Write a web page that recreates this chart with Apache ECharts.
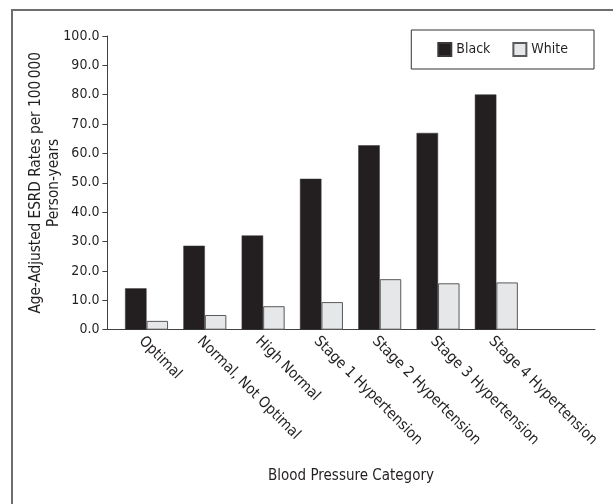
<!DOCTYPE html>
<html>
<head>
<meta charset="utf-8">
<script src="https://cdn.jsdelivr.net/npm/echarts@6/dist/echarts.min.js"></script>
<style>
  html, body { margin: 0; padding: 0; background: #fff; }
  #chart { width: 613px; height: 504px; position: absolute; left: 0; top: 0; }
  #frame { position: absolute; left: 11px; top: 9px; width: 613px; height: 504px;
           border-left: 2px solid #6d6e70; border-top: 2px solid #6d6e70; pointer-events: none; }
</style>
</head>
<body>
<div id="chart"></div>
<div id="frame"></div>
<script>
const categories = ["Optimal", "Normal, Not Optimal", "High Normal", "Stage 1 Hypertension",
                    "Stage 2 Hypertension", "Stage 3 Hypertension", "Stage 4 Hypertension", ""];
const blackRates = [14.1, 28.6, 32.1, 51.4, 62.8, 67.0, 80.1, null];
const whiteRates = [3.0, 5.0, 8.0, 9.4, 17.2, 15.8, 16.1, null];
const yTicks = { min: 0, max: 100, interval: 10 };

const FONT = '"Liberation Sans Narrow", "DejaVu Sans Condensed", "Liberation Sans", sans-serif';
const TXT = '#231f20';

const chart = echarts.init(document.getElementById('chart'), null, { renderer: 'canvas' });
chart.setOption({
  animation: false,
  backgroundColor: '#fff',
  textStyle: { fontFamily: FONT, color: TXT },
  legend: {
    right: 19, top: 30,
    padding: [12, 26, 12, 26],
    borderColor: '#333', borderWidth: 1,
    itemWidth: 13, itemHeight: 13, itemGap: 22,
    icon: 'rect',
    textStyle: { fontFamily: FONT, fontSize: 14, color: TXT },
    data: ['Black', 'White']
  },
  grid: [
    { left: 117.4, width: 466.4, top: 36, height: 293.7, containLabel: false },
    { left: 107, width: 488, top: 36, height: 293.7, containLabel: false }
  ],
  xAxis: [
    {
      type: 'category', gridIndex: 0, data: categories,
      axisLine: { show: false }, axisTick: { show: false },
      axisLabel: { rotate: -45, interval: 0, margin: 4, verticalAlign: 'top',
                   fontFamily: FONT, fontSize: 15, color: TXT }
    },
    {
      type: 'category', gridIndex: 1, data: [],
      axisLine: { show: true, lineStyle: { color: '#414042', width: 1 } },
      axisTick: { show: false }, axisLabel: { show: false },
      name: 'Blood Pressure Category', nameLocation: 'middle', nameGap: 139,
      nameMoveOverlap: false,
      nameTextStyle: { fontFamily: FONT, fontSize: 15, color: TXT }
    }
  ],
  yAxis: [
    {
      type: 'value', gridIndex: 0, offset: 10,
      min: yTicks.min, max: yTicks.max, interval: yTicks.interval,
      splitLine: { show: false },
      axisLine: { show: true, lineStyle: { color: '#414042', width: 1 } },
      axisTick: { show: true, length: 5, lineStyle: { color: '#414042' } },
      axisLabel: { margin: 8, fontFamily: FONT, fontSize: 14, color: TXT,
                   formatter: v => v.toFixed(1) },
      name: 'Age-Adjusted ESRD Rates per 100\u2009000\nPerson-years',
      nameLocation: 'middle', nameRotate: 90, nameGap: 44,
      nameMoveOverlap: false,
      nameTextStyle: { fontFamily: FONT, fontSize: 15.2, color: TXT, lineHeight: 18 }
    },
    { type: 'value', gridIndex: 1, show: false, min: 0, max: 100 }
  ],
  series: [
    {
      name: 'Black', type: 'bar', xAxisIndex: 0, yAxisIndex: 0,
      data: blackRates, barWidth: 21.5, barGap: '0%',
      itemStyle: { color: '#231f20', borderColor: '#3a3839', borderWidth: 0.5 }
    },
    {
      name: 'White', type: 'bar', xAxisIndex: 0, yAxisIndex: 0,
      data: whiteRates, barWidth: 21.5,
      itemStyle: { color: '#e6e7e8', borderColor: '#58595b', borderWidth: 1 }
    }
  ]
});
</script>
</body>
</html>
